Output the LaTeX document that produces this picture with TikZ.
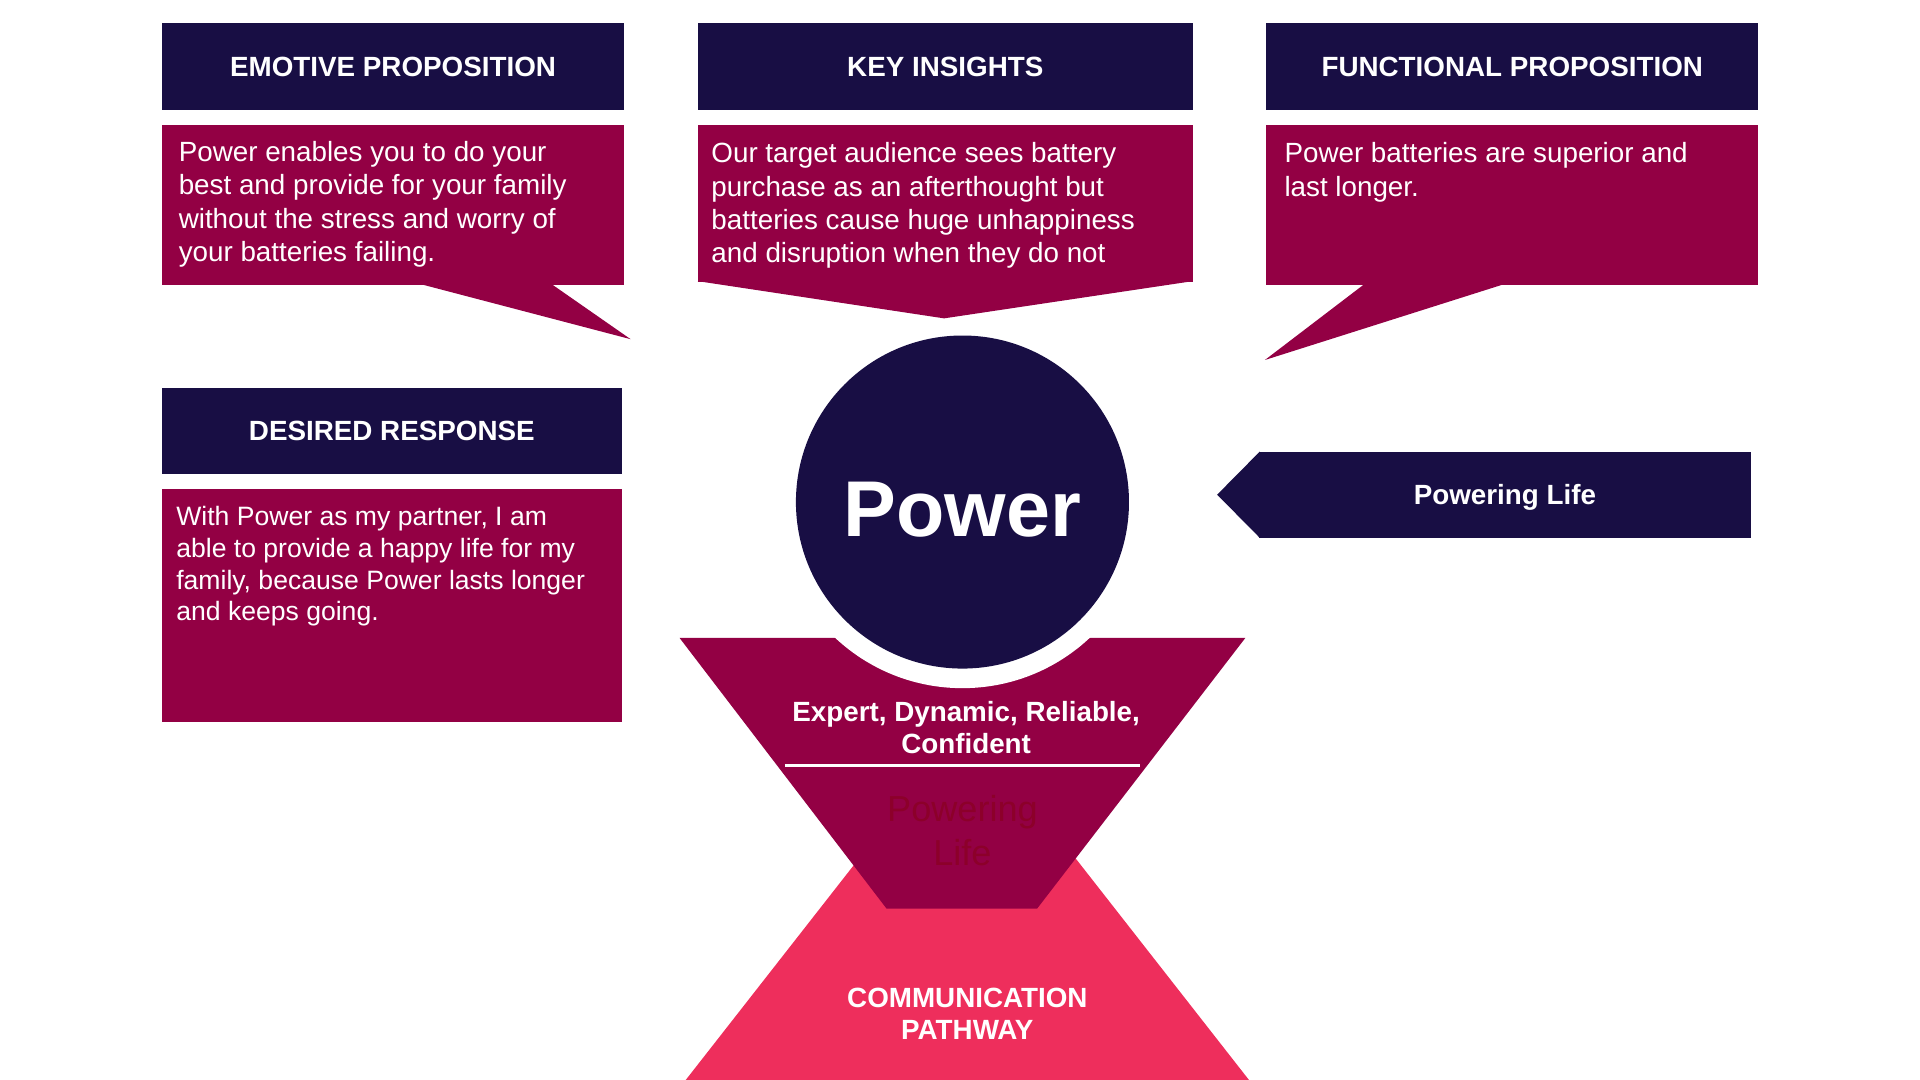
\documentclass[tikz,border=0pt]{standalone}
\usepackage{fontspec}
\setmainfont{Liberation Sans}
\usetikzlibrary{positioning, calc}
\definecolor{navy}{RGB}{24,14,68}
\definecolor{plum}{RGB}{147,0,68}
\definecolor{rose}{RGB}{238,46,92}
\definecolor{ghost}{RGB}{140,0,42}

\begin{document}
\begin{tikzpicture}[x=1pt, y=-1pt,
  headbox/.style={rectangle, fill=navy, text=white, inner sep=0pt, minimum height=71pt, font=\bfseries\fontsize{22.7}{27.3}\selectfont},
  panelbox/.style={rectangle, fill=plum, inner sep=0pt},
  bodytext/.style={anchor=north west, inner sep=0pt, text=white, align=left, font=\fontsize{22.7}{27.3}\selectfont},
  whitetext/.style={text=white, align=center, inner sep=0pt, font=\bfseries\fontsize{22.7}{26}\selectfont}]
\useasboundingbox (0,0) rectangle (1568,882);

% Funnel and pathway
\fill[rose] (560,882) -- (790,588) -- (1020,882) -- cycle;
\fill[plum] (555,521) -- (1017,521) -- (847,742) -- (724,742) -- cycle;
\fill[white] (786,410) circle[radius=152pt];
\node[circle, fill=navy, minimum size=272pt, inner sep=0pt, text=white, text height=56pt, text depth=0pt, font=\bfseries\fontsize{64.6}{70}\selectfont] (power) at (786,410) {Power};

\node[whitetext] (traits) at (789,594) {Expert, Dynamic, Reliable,\\Confident};
\draw[white, line width=2pt] (641,625) -- (931,625);
\node[text=ghost, align=center, inner sep=0pt, font=\fontsize{29.5}{36}\selectfont] (ghosttag) at (786,678) {Powering\\Life};
\node[whitetext] (pathway) at (790,828) {COMMUNICATION\\PATHWAY};

% Emotive proposition
\node[headbox, minimum width=378pt] (emohead) at (321,54.5) {EMOTIVE PROPOSITION};
\node[panelbox, minimum width=378pt, minimum height=130pt, below=12pt of emohead] (emotext) {};
\coordinate (emotip) at (515,277);
\fill[plum] ($(emotext.south west)+(210,-1)$) -- (emotip) -- ($(emotext.south west)+(318,-1)$) -- cycle;
\node[bodytext] (emobody) at ([shift={(14,13)}]emotext.north west) {Power enables you to do your\\best and provide for your family\\without the stress and worry of\\your batteries failing.};

% Key insights
\node[headbox, minimum width=404pt] (keyhead) at (772,54.5) {KEY INSIGHTS};
\node[panelbox, minimum width=404pt, minimum height=128pt, below=12pt of keyhead] (keytext) {};
\coordinate (keytip) at (771,260);
\fill[plum] ([yshift=1pt]keytext.south west) -- (keytip) -- ([yshift=1pt]keytext.south east) -- cycle;
\node[bodytext] (keybody) at ([shift={(11,14)}]keytext.north west) {Our target audience sees battery\\purchase as an afterthought but\\batteries cause huge unhappiness\\and disruption when they do not};

% Functional proposition
\node[headbox, minimum width=402pt] (funchead) at (1235,54.5) {FUNCTIONAL PROPOSITION};
\node[panelbox, minimum width=402pt, minimum height=130pt, below=12pt of funchead] (functext) {};
\coordinate (functip) at (1033,294);
\fill[plum] ($(functext.south west)+(81,-1)$) -- (functip) -- ($(functext.south west)+(196,-1)$) -- cycle;
\node[bodytext] (funcbody) at ([shift={(15,14)}]functext.north west) {Power batteries are superior and\\last longer.};

% Desired response
\node[headbox, minimum width=376pt, minimum height=70pt] (deshead) at (320,352) {DESIRED RESPONSE};
\node[panelbox, minimum width=376pt, minimum height=190pt, below=12pt of deshead] (destext) {};
\node[bodytext, font=\fontsize{21.7}{26}\selectfont] (desbody) at ([shift={(12,14)}]destext.north west) {With Power as my partner, I am\\able to provide a happy life for my\\family, because Power lasts longer\\and keeps going.};

% Tagline
\node[rectangle, fill=navy, minimum width=402pt, minimum height=70pt, inner sep=0pt, text=white, text depth=0pt, font=\bfseries\fontsize{22.7}{27.3}\selectfont] (tagline) at (1229,404) {Powering Life};
\coordinate (tagtip) at (994,404);
\fill[navy] ([xshift=1pt]tagline.north west) -- (tagtip) -- ([xshift=1pt]tagline.south west) -- cycle;
\end{tikzpicture}
\end{document}
